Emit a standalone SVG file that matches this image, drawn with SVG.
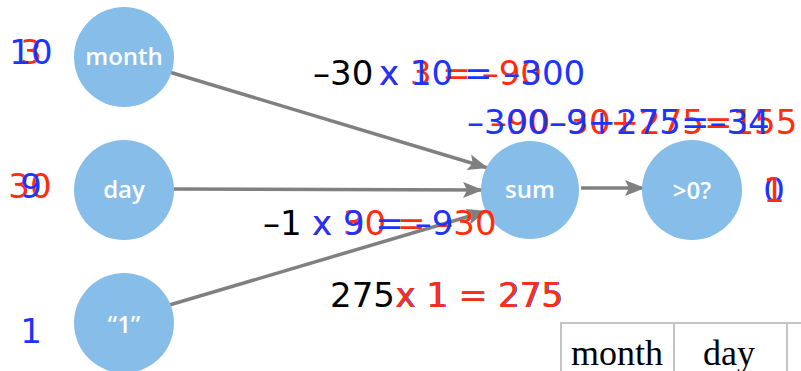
<svg xmlns="http://www.w3.org/2000/svg" width="801" height="371" viewBox="0 0 801 371">
<defs>
<style>
.node{fill:#86bde9}
.lbl{font-family:"Open Sans","DejaVu Sans",sans-serif;font-size:24px;font-weight:600;fill:#ffffff;text-anchor:middle}
.num{font-family:"DejaVu Sans",sans-serif;font-size:34px}
.blk{fill:#000000}
.red{fill:#ff2d0a}
.blu{fill:#1a35ff}
.mid{text-anchor:middle}
.edge{fill:none;stroke:#808080;stroke-width:3.5}
.tbl{stroke:#c4c4c4;stroke-width:2;fill:none}
.ser{font-family:"Liberation Serif","DejaVu Serif",serif;font-size:36px;fill:#000000}
</style>
<marker id="arr" markerUnits="userSpaceOnUse" markerWidth="22" markerHeight="18" refX="20" refY="8" orient="auto" viewBox="0 0 22 18">
<path d="M0,0 L20,8 L0,16 L4,8 Z" fill="#808080"/>
</marker>
</defs>
<g id="connectors">
<path class="edge" d="M166,71 L488,168" marker-end="url(#arr)"/>
<path class="edge" d="M172,189 L483,190" marker-end="url(#arr)"/>
<path class="edge" d="M166,306 L487,211" marker-end="url(#arr)"/>
<path class="edge" d="M581,188 L645,188" marker-end="url(#arr)"/>
</g>
<g id="node-month"><circle class="node" cx="124" cy="57" r="50"/><text class="lbl" x="124" y="65">month</text></g>
<g id="node-day"><circle class="node" cx="124" cy="190" r="50"/><text class="lbl" x="124" y="198">day</text></g>
<g id="node-one"><circle class="node" cx="124" cy="323" r="50"/><text class="lbl" x="124" y="333">“1”</text></g>
<g id="node-sum"><circle class="node" cx="530" cy="190" r="49"/><text class="lbl" x="530" y="198">sum</text></g>
<g id="node-gt0"><circle class="node" cx="692" cy="190" r="50"/><text class="lbl" x="692" y="199">&gt;0?</text></g>
<g id="values">
<text class="num red mid" x="31" y="64">3</text>
<text class="num blu mid" x="31" y="64">10</text>
<text class="num red mid" x="30" y="198">30</text>
<text class="num blu mid" x="31" y="198">9</text>
<text class="num blu mid" x="31" y="343">1</text>
<text class="num blu mid" x="774" y="202">0</text>
<text class="num red mid" x="774" y="202">1</text>
</g>
<g id="equations">
<text class="num blk" x="313" y="85">–30</text>
<text class="num red" x="379" y="85">x 3 = –90</text>
<text class="num blu" x="379" y="85">x 10 = –300</text>
<text class="num red" x="490" y="134">–90–30+275=155</text>
<text class="num blu" x="467" y="134">–300–9+275=–34</text>
<text class="num blk" x="263" y="235">–1</text>
<text class="num red" x="312" y="235">x 30 = –30</text>
<text class="num blu" x="312" y="235">x 9 = –9</text>
<text class="num blk" x="330" y="307">275</text>
<text class="num blu" x="396" y="307">x 1 = 275</text>
<text class="num red" x="395" y="307">x 1 = 275</text>
</g>
<g id="table">
<path class="tbl" d="M561,372 L561,323 L801,323 M674,323 L674,372 M787,323 L787,372"/>
<text class="ser mid" x="617" y="365">month</text>
<text class="ser mid" x="729" y="365">day</text>
</g>
</svg>
